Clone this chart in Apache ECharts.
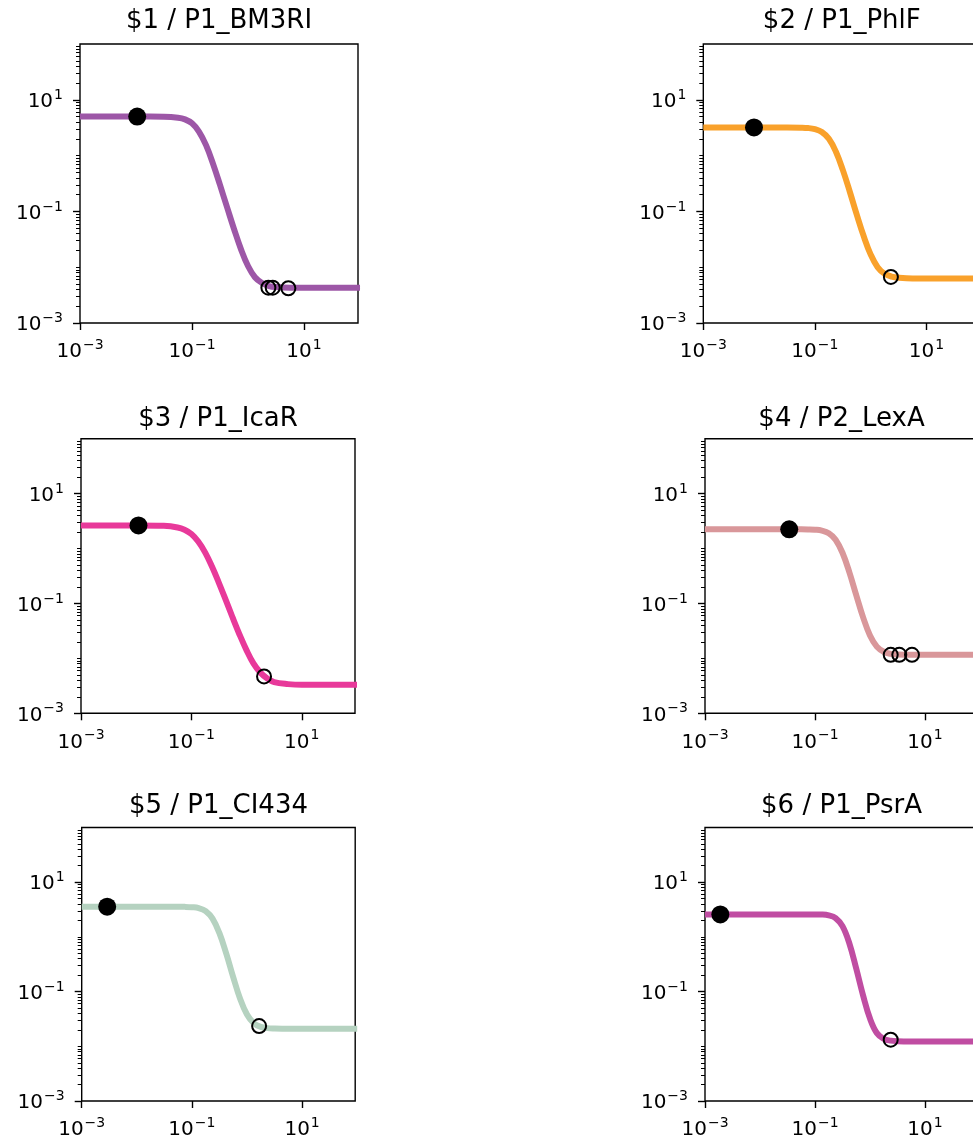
<!DOCTYPE html>
<html>
<head>
<meta charset="utf-8">
<title>gate response functions</title>
<script src="https://cdn.jsdelivr.net/npm/echarts@6/dist/echarts.min.js"></script>
<style>
  html, body { margin: 0; padding: 0; background: #fff; }
  #main { width: 973px; height: 1143px; }
</style>
</head>
<body>
<div id="main"></div>
<script>
const xs = [0.001, 0.01, 0.0316, 0.0562, 0.075, 0.1, 0.133, 0.178, 0.237, 0.316, 0.422,
            0.562, 0.75, 1, 1.33, 1.78, 2.37, 3.16, 5.62, 10, 100];

const titles = ["$1 / P1_BM3RI", "$2 / P1_PhlF", "$3 / P1_IcaR", "$4 / P2_LexA", "$5 / P1_CI434", "$6 / P1_PsrA"];
const colors = ["#9d57a7", "#f9a12b", "#e8399a", "#d9979a", "#b5d2c0", "#c04da2"];

// response curves (output at each xs)
const curve1 = [5.0, 5.0, 4.97, 4.78, 4.46, 3.79, 2.70, 1.54, 0.717, 0.298, 0.119, 0.0485, 0.0209, 0.0105, 0.0066, 0.0052, 0.0046, 0.0044, 0.0043, 0.0043, 0.0043];
const curve2 = [3.2, 3.2, 3.2, 3.17, 3.12, 2.97, 2.64, 2.0, 1.185, 0.555, 0.225, 0.0875, 0.0357, 0.0168, 0.0100, 0.0076, 0.0068, 0.0065, 0.0063, 0.0063, 0.0063];
const curve3 = [2.64, 2.64, 2.59, 2.42, 2.20, 1.84, 1.344, 0.844, 0.465, 0.235, 0.1135, 0.0544, 0.0267, 0.014, 0.0081, 0.0055, 0.0043, 0.0037, 0.0034, 0.0033, 0.0033];
const curve4 = [2.24, 2.24, 2.24, 2.24, 2.23, 2.2, 2.12, 1.9, 1.45, 0.837, 0.369, 0.142, 0.0558, 0.0262, 0.0164, 0.0132, 0.0121, 0.0118, 0.0116, 0.0116, 0.0116];
const curve5 = [3.56, 3.56, 3.56, 3.55, 3.54, 3.49, 3.36, 2.96, 2.16, 1.17, 0.489, 0.184, 0.074, 0.038, 0.0264, 0.0227, 0.0215, 0.0212, 0.021, 0.021, 0.021];
const curve6 = [2.58, 2.58, 2.58, 2.58, 2.58, 2.57, 2.56, 2.48, 2.21, 1.57, 0.758, 0.264, 0.0845, 0.0321, 0.0175, 0.0137, 0.0127, 0.0124, 0.0123, 0.0123, 0.0123];

// state points: filled = low input (ON), open = high input (OFF)
const onPts1 = [[0.0105, 5.0]];
const offPts1 = [[2.31, 0.0043], [2.76, 0.0043], [5.25, 0.0042]];
const onPts2 = [[0.0081, 3.2]];
const offPts2 = [[2.3, 0.0067]];
const onPts3 = [[0.011, 2.64]];
const offPts3 = [[2.07, 0.0047]];
const onPts4 = [[0.034, 2.24]];
const offPts4 = [[2.38, 0.0116], [3.41, 0.0116], [5.8, 0.0116]];
const onPts5 = [[0.0029, 3.56]];
const offPts5 = [[1.66, 0.0234]];
const onPts6 = [[0.0019, 2.58]];
const offPts6 = [[2.38, 0.0132]];

const majorTicks = [0.001, 0.1, 10];
const xMin = 0.001, xMax = 92, yMin = 0.001, yMax = 100;

const curves = [curve1, curve2, curve3, curve4, curve5, curve6];
const onPts = [onPts1, onPts2, onPts3, onPts4, onPts5, onPts6];
const offPts = [offPts1, offPts2, offPts3, offPts4, offPts5, offPts6];

// minor ticks on the log y axis: 1..9 x 10^n (skipping labelled decades)
const minorTicks = [];
for (let e = -3; e <= 1; e++) {
  for (let m = 1; m <= 9; m++) {
    if (m === 1 && e % 2 !== 0) continue;
    minorTicks.push(+(m * Math.pow(10, e)).toPrecision(3));
  }
}

const FONT = "DejaVu Sans";
// [left, top, width, height] of each panel
const boxes = [
  [80, 44, 278, 279], [703.3, 44, 277, 279],
  [81, 438.7, 274, 274.6], [705, 438.7, 273, 274.6],
  [81.7, 827.5, 273.5, 273.5], [705, 827.5, 273, 273.5]
];
const titleY = [21.5, 21.5, 419, 419, 806, 806];

function powLabel(v) {
  const e = Math.round(Math.log10(v));
  return "{b|10}{s|" + String(e).replace("-", "\u2212") + "}";
}
const rich = {
  b: { fontSize: 20, fontFamily: FONT, color: "#000", padding: [4, 0, 0, 0] },
  s: { fontSize: 14, fontFamily: FONT, color: "#000", padding: [0, 0, 9, 1] }
};

const chart = echarts.init(document.getElementById("main"));

const grid = [], xAxis = [], yAxis = [], series = [], graphic = [];
boxes.forEach((b, i) => {
  grid.push({
    left: b[0], top: b[1], width: b[2], height: b[3],
    show: true, borderColor: "#000", borderWidth: 1.4, backgroundColor: "transparent",
    outerBoundsMode: "none", containLabel: false
  });
  xAxis.push({
    type: "log", logBase: 10, gridIndex: i, min: xMin, max: xMax,
    axisLine: { show: false },
    splitLine: { show: false },
    minorTick: { show: false },
    axisTick: { show: true, customValues: majorTicks, length: 7, lineStyle: { color: "#000", width: 1.4 } },
    axisLabel: { customValues: majorTicks, formatter: powLabel, rich: rich, margin: 15 }
  });
  // major ticks + labels
  yAxis.push({
    type: "log", logBase: 10, gridIndex: i, position: "left", offset: 0, min: yMin, max: yMax,
    axisLine: { show: false },
    splitLine: { show: false },
    axisTick: { show: true, customValues: majorTicks, length: 7, lineStyle: { color: "#000", width: 1.4 } },
    axisLabel: { customValues: majorTicks, formatter: powLabel, rich: rich, margin: 17 }
  });
  // minor ticks only
  yAxis.push({
    type: "log", logBase: 10, gridIndex: i, position: "left", offset: 0, min: yMin, max: yMax,
    axisLine: { show: false },
    splitLine: { show: false },
    axisTick: { show: true, customValues: minorTicks, length: 4, lineStyle: { color: "#000", width: 1 } },
    axisLabel: { show: false }
  });

  series.push({
    type: "line", xAxisIndex: i, yAxisIndex: 2 * i,
    data: xs.map((x, j) => [x, curves[i][j]]),
    smooth: 0.4, showSymbol: false, clip: true,
    lineStyle: { color: colors[i], width: 6 },
    z: 2
  });
  series.push({
    type: "scatter", xAxisIndex: i, yAxisIndex: 2 * i,
    data: onPts[i], symbol: "circle", symbolSize: 18,
    itemStyle: { color: "#000", opacity: 1 }, z: 4
  });
  series.push({
    type: "scatter", xAxisIndex: i, yAxisIndex: 2 * i,
    data: offPts[i], symbol: "circle", symbolSize: 14,
    itemStyle: { color: "rgba(0,0,0,0)", borderColor: "#000", borderWidth: 2, opacity: 1 }, z: 4
  });

  graphic.push({
    type: "text", x: b[0] + b[2] / 2, y: titleY[i],
    style: { text: titles[i], align: "center", verticalAlign: "middle", fill: "#000", font: "26px '" + FONT + "'" }
  });
});

chart.setOption({
  animation: false,
  backgroundColor: "#fff",
  grid: grid,
  xAxis: xAxis,
  yAxis: yAxis,
  series: series,
  graphic: graphic
});
</script>
</body>
</html>
